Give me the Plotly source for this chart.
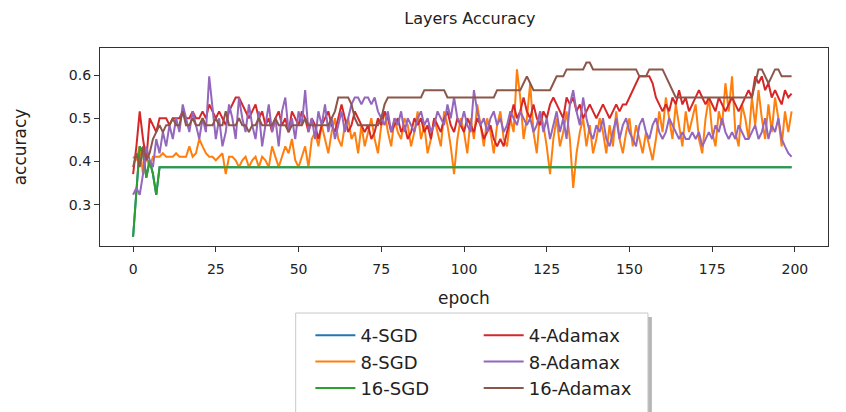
import plotly.graph_objects as go

epochs = list(range(200))

acc_16_sgd = [
    0.226, 0.339, 0.435, 0.419, 0.363, 0.403, 0.371, 0.323, 0.387, 0.387,
    0.387, 0.387, 0.387, 0.387, 0.387, 0.387, 0.387, 0.387, 0.387, 0.387,
    0.387, 0.387, 0.387, 0.387, 0.387, 0.387, 0.387, 0.387, 0.387, 0.387,
    0.387, 0.387, 0.387, 0.387, 0.387, 0.387, 0.387, 0.387, 0.387, 0.387,
    0.387, 0.387, 0.387, 0.387, 0.387, 0.387, 0.387, 0.387, 0.387, 0.387,
    0.387, 0.387, 0.387, 0.387, 0.387, 0.387, 0.387, 0.387, 0.387, 0.387,
    0.387, 0.387, 0.387, 0.387, 0.387, 0.387, 0.387, 0.387, 0.387, 0.387,
    0.387, 0.387, 0.387, 0.387, 0.387, 0.387, 0.387, 0.387, 0.387, 0.387,
    0.387, 0.387, 0.387, 0.387, 0.387, 0.387, 0.387, 0.387, 0.387, 0.387,
    0.387, 0.387, 0.387, 0.387, 0.387, 0.387, 0.387, 0.387, 0.387, 0.387,
    0.387, 0.387, 0.387, 0.387, 0.387, 0.387, 0.387, 0.387, 0.387, 0.387,
    0.387, 0.387, 0.387, 0.387, 0.387, 0.387, 0.387, 0.387, 0.387, 0.387,
    0.387, 0.387, 0.387, 0.387, 0.387, 0.387, 0.387, 0.387, 0.387, 0.387,
    0.387, 0.387, 0.387, 0.387, 0.387, 0.387, 0.387, 0.387, 0.387, 0.387,
    0.387, 0.387, 0.387, 0.387, 0.387, 0.387, 0.387, 0.387, 0.387, 0.387,
    0.387, 0.387, 0.387, 0.387, 0.387, 0.387, 0.387, 0.387, 0.387, 0.387,
    0.387, 0.387, 0.387, 0.387, 0.387, 0.387, 0.387, 0.387, 0.387, 0.387,
    0.387, 0.387, 0.387, 0.387, 0.387, 0.387, 0.387, 0.387, 0.387, 0.387,
    0.387, 0.387, 0.387, 0.387, 0.387, 0.387, 0.387, 0.387, 0.387, 0.387,
    0.387, 0.387, 0.387, 0.387, 0.387, 0.387, 0.387, 0.387, 0.387, 0.387,
]

# 4-SGD lies exactly underneath 16-SGD in the reference
acc_4_sgd = list(acc_16_sgd)

acc_8_sgd = [
    0.411, 0.403, 0.435, 0.371, 0.411, 0.387, 0.411, 0.411, 0.411, 0.419,
    0.411, 0.411, 0.411, 0.419, 0.411, 0.411, 0.411, 0.435, 0.411, 0.419,
    0.452, 0.435, 0.419, 0.411, 0.411, 0.403, 0.411, 0.419, 0.371, 0.411,
    0.411, 0.403, 0.387, 0.403, 0.411, 0.387, 0.403, 0.411, 0.387, 0.411,
    0.403, 0.387, 0.435, 0.411, 0.387, 0.411, 0.435, 0.419, 0.452, 0.403,
    0.387, 0.411, 0.435, 0.387, 0.452, 0.468, 0.435, 0.484, 0.452, 0.419,
    0.468, 0.500, 0.452, 0.435, 0.484, 0.500, 0.452, 0.468, 0.419, 0.484,
    0.435, 0.468, 0.500, 0.452, 0.419, 0.484, 0.516, 0.468, 0.435, 0.500,
    0.468, 0.452, 0.500, 0.484, 0.435, 0.468, 0.516, 0.452, 0.484, 0.419,
    0.452, 0.500, 0.468, 0.435, 0.516, 0.484, 0.435, 0.371, 0.452, 0.500,
    0.468, 0.419, 0.500, 0.452, 0.532, 0.484, 0.435, 0.500, 0.468, 0.419,
    0.484, 0.516, 0.452, 0.435, 0.500, 0.468, 0.613, 0.548, 0.452, 0.500,
    0.581, 0.468, 0.419, 0.516, 0.484, 0.435, 0.371, 0.452, 0.500, 0.435,
    0.468, 0.516, 0.452, 0.339, 0.419, 0.468, 0.500, 0.435, 0.484, 0.419,
    0.452, 0.500, 0.468, 0.419, 0.484, 0.435, 0.516, 0.452, 0.419, 0.468,
    0.500, 0.435, 0.484, 0.452, 0.419, 0.468, 0.435, 0.403, 0.452, 0.516,
    0.468, 0.548, 0.500, 0.452, 0.532, 0.484, 0.435, 0.516, 0.468, 0.500,
    0.532, 0.452, 0.419, 0.500, 0.548, 0.468, 0.435, 0.516, 0.484, 0.581,
    0.516, 0.597, 0.468, 0.435, 0.532, 0.500, 0.452, 0.548, 0.484, 0.565,
    0.500, 0.452, 0.532, 0.468, 0.548, 0.500, 0.435, 0.516, 0.468, 0.516,
]

acc_4_adamax = [
    0.371, 0.435, 0.516, 0.452, 0.403, 0.500, 0.484, 0.468, 0.500, 0.500,
    0.500, 0.484, 0.500, 0.500, 0.500, 0.516, 0.500, 0.500, 0.516, 0.500,
    0.500, 0.516, 0.500, 0.532, 0.516, 0.500, 0.516, 0.500, 0.484, 0.516,
    0.532, 0.548, 0.548, 0.532, 0.516, 0.500, 0.516, 0.532, 0.500, 0.516,
    0.484, 0.500, 0.468, 0.500, 0.516, 0.484, 0.500, 0.468, 0.516, 0.500,
    0.484, 0.516, 0.500, 0.468, 0.500, 0.484, 0.452, 0.484, 0.500, 0.516,
    0.484, 0.468, 0.500, 0.532, 0.500, 0.468, 0.484, 0.516, 0.500, 0.484,
    0.468, 0.484, 0.452, 0.468, 0.500, 0.484, 0.516, 0.500, 0.468, 0.484,
    0.500, 0.468, 0.484, 0.452, 0.468, 0.500, 0.484, 0.500, 0.468, 0.484,
    0.452, 0.500, 0.484, 0.468, 0.500, 0.516, 0.484, 0.468, 0.500, 0.484,
    0.468, 0.500, 0.484, 0.468, 0.500, 0.484, 0.452, 0.468, 0.484, 0.452,
    0.435, 0.452, 0.435, 0.468, 0.500, 0.532, 0.500, 0.516, 0.548, 0.516,
    0.500, 0.532, 0.500, 0.484, 0.516, 0.500, 0.532, 0.548, 0.532, 0.516,
    0.500, 0.548, 0.532, 0.548, 0.516, 0.532, 0.500, 0.516, 0.532, 0.516,
    0.500, 0.516, 0.532, 0.516, 0.500, 0.516, 0.532, 0.516, 0.532, 0.532,
    0.548, 0.565, 0.581, 0.597, 0.597, 0.597, 0.597, 0.581, 0.548, 0.532,
    0.516, 0.532, 0.516, 0.548, 0.532, 0.565, 0.532, 0.548, 0.516, 0.532,
    0.548, 0.565, 0.548, 0.532, 0.548, 0.532, 0.516, 0.548, 0.532, 0.516,
    0.532, 0.548, 0.532, 0.516, 0.532, 0.548, 0.565, 0.548, 0.597, 0.581,
    0.597, 0.565, 0.581, 0.548, 0.565, 0.548, 0.532, 0.565, 0.548, 0.557,
]

acc_8_adamax = [
    0.323, 0.339, 0.323, 0.371, 0.435, 0.403, 0.387, 0.452, 0.419, 0.468,
    0.435, 0.484, 0.452, 0.500, 0.468, 0.532, 0.500, 0.468, 0.516, 0.484,
    0.452, 0.500, 0.468, 0.597, 0.516, 0.452, 0.500, 0.435, 0.468, 0.532,
    0.500, 0.452, 0.548, 0.500, 0.468, 0.532, 0.484, 0.452, 0.516, 0.435,
    0.484, 0.532, 0.468, 0.500, 0.435, 0.516, 0.548, 0.468, 0.500, 0.452,
    0.516, 0.484, 0.565, 0.468, 0.500, 0.452, 0.516, 0.484, 0.532, 0.468,
    0.500, 0.452, 0.484, 0.516, 0.468, 0.500, 0.532, 0.548, 0.548, 0.532,
    0.548, 0.548, 0.532, 0.548, 0.516, 0.500, 0.484, 0.516, 0.468, 0.500,
    0.484, 0.516, 0.468, 0.500, 0.484, 0.468, 0.500, 0.516, 0.484, 0.500,
    0.468, 0.484, 0.516, 0.500, 0.484, 0.532, 0.500, 0.548, 0.500, 0.484,
    0.516, 0.484, 0.468, 0.565, 0.516, 0.484, 0.500, 0.468, 0.500, 0.516,
    0.484, 0.500, 0.468, 0.484, 0.516, 0.500, 0.484, 0.516, 0.500, 0.484,
    0.500, 0.468, 0.484, 0.516, 0.468, 0.500, 0.452, 0.484, 0.516, 0.468,
    0.500, 0.452, 0.532, 0.565, 0.516, 0.484, 0.548, 0.500, 0.468, 0.452,
    0.484, 0.468, 0.500, 0.452, 0.435, 0.468, 0.500, 0.452, 0.484, 0.500,
    0.468, 0.452, 0.435, 0.484, 0.500, 0.468, 0.452, 0.484, 0.500, 0.468,
    0.452, 0.468, 0.500, 0.484, 0.468, 0.452, 0.468, 0.452, 0.452, 0.468,
    0.452, 0.468, 0.435, 0.452, 0.468, 0.452, 0.484, 0.468, 0.500, 0.468,
    0.452, 0.468, 0.452, 0.484, 0.468, 0.452, 0.452, 0.468, 0.484, 0.452,
    0.468, 0.500, 0.452, 0.484, 0.468, 0.500, 0.452, 0.435, 0.419, 0.411,
]

acc_16_adamax = [
    0.387, 0.419, 0.387, 0.435, 0.403, 0.419, 0.452, 0.468, 0.484, 0.468,
    0.484, 0.484, 0.500, 0.484, 0.484, 0.516, 0.484, 0.484, 0.500, 0.484,
    0.484, 0.500, 0.484, 0.484, 0.484, 0.500, 0.484, 0.484, 0.516, 0.484,
    0.484, 0.484, 0.500, 0.484, 0.484, 0.468, 0.484, 0.484, 0.500, 0.484,
    0.484, 0.484, 0.484, 0.500, 0.484, 0.484, 0.484, 0.468, 0.484, 0.484,
    0.484, 0.484, 0.500, 0.484, 0.484, 0.484, 0.484, 0.484, 0.484, 0.484,
    0.500, 0.516, 0.548, 0.548, 0.548, 0.548, 0.532, 0.500, 0.484, 0.484,
    0.484, 0.484, 0.484, 0.484, 0.484, 0.500, 0.532, 0.548, 0.548, 0.548,
    0.548, 0.548, 0.548, 0.548, 0.548, 0.548, 0.548, 0.548, 0.565, 0.565,
    0.565, 0.565, 0.565, 0.565, 0.565, 0.548, 0.548, 0.548, 0.548, 0.548,
    0.548, 0.548, 0.548, 0.548, 0.548, 0.548, 0.548, 0.548, 0.548, 0.548,
    0.565, 0.565, 0.565, 0.565, 0.565, 0.565, 0.565, 0.565, 0.581, 0.597,
    0.581, 0.565, 0.565, 0.565, 0.565, 0.565, 0.565, 0.581, 0.597, 0.597,
    0.597, 0.613, 0.613, 0.613, 0.613, 0.613, 0.613, 0.629, 0.629, 0.613,
    0.613, 0.613, 0.613, 0.613, 0.613, 0.613, 0.613, 0.613, 0.613, 0.613,
    0.613, 0.613, 0.613, 0.597, 0.597, 0.597, 0.613, 0.613, 0.613, 0.613,
    0.613, 0.597, 0.581, 0.565, 0.548, 0.548, 0.548, 0.548, 0.548, 0.548,
    0.548, 0.548, 0.548, 0.548, 0.548, 0.548, 0.548, 0.548, 0.548, 0.548,
    0.548, 0.548, 0.548, 0.548, 0.548, 0.548, 0.548, 0.548, 0.581, 0.613,
    0.613, 0.597, 0.581, 0.597, 0.613, 0.613, 0.597, 0.597, 0.597, 0.597,
]

series_names = ["4-SGD", "8-SGD", "16-SGD", "4-Adamax", "8-Adamax", "16-Adamax"]
series_values = [acc_4_sgd, acc_8_sgd, acc_16_sgd, acc_4_adamax, acc_8_adamax, acc_16_adamax]
series_colors = ["#1f77b4", "#ff7f0e", "#2ca02c", "#d62728", "#9467bd", "#8c564b"]
series_legends = ["legend", "legend", "legend", "legend2", "legend2", "legend2"]

x_tick_values = [0, 25, 50, 75, 100, 125, 150, 175, 200]
y_tick_values = [0.3, 0.4, 0.5, 0.6]

FONT = "DejaVu Sans"
TXT = "#222222"

fig = go.Figure()
for name, vals, col, lg in zip(series_names, series_values, series_colors, series_legends):
    fig.add_trace(go.Scatter(
        x=epochs, y=vals, mode="lines", name=name,
        line=dict(color=col, width=2),
        legend=lg, legendgroup=name,
    ))

W, H = 846, 412
L, R, T, B = 76, 26, 40, 174
pw, ph = W - L - R, H - T - B


def px(xp):
    return (xp - L) / pw


def py(yp):
    return (H - B - yp) / ph


legend_common = dict(
    bgcolor="rgba(0,0,0,0)", borderwidth=0,
    font=dict(family=FONT, size=18, color=TXT),
    xanchor="left", yanchor="top", orientation="v",
    traceorder="grouped", tracegroupgap=0, itemwidth=40,
)

fig.update_layout(
    width=W, height=H,
    margin=dict(l=L, r=R, t=T, b=B),
    paper_bgcolor="white", plot_bgcolor="white",
    title=dict(text="Layers Accuracy", font=dict(family=FONT, size=16, color=TXT),
               x=px(454), xref="paper", xanchor="center",
               y=1, yref="container", yanchor="top", pad=dict(t=5)),
    xaxis=dict(
        range=[-10, 210], tickvals=x_tick_values,
        showgrid=False, zeroline=False,
        showline=True, linecolor="#333333", linewidth=1.2, mirror=True,
        ticks="outside", ticklen=5, tickwidth=1.2, tickcolor="#333333",
        ticklabelstandoff=5,
        tickfont=dict(family=FONT, size=14, color=TXT),
        title=dict(text="epoch", font=dict(family=FONT, size=17, color=TXT), standoff=16),
    ),
    yaxis=dict(
        range=[0.2046, 0.6625], tickvals=y_tick_values, tickformat=".1f",
        showgrid=False, zeroline=False,
        showline=True, linecolor="#333333", linewidth=1.2, mirror=True,
        ticks="outside", ticklen=5, tickwidth=1.2, tickcolor="#333333",
        tickfont=dict(family=FONT, size=14, color=TXT),
        title=dict(text="accuracy", font=dict(family=FONT, size=17, color=TXT), standoff=37),
    ),
    legend=dict(x=px(291), y=py(309), **legend_common),
    legend2=dict(x=px(463), y=py(309), **legend_common),
    shapes=[
        dict(type="rect", xref="paper", yref="paper",
             x0=px(280), x1=px(640), y0=py(413), y1=py(309),
             line=dict(width=0), fillcolor="rgba(110,110,110,0.5)", layer="above"),
        dict(type="rect", xref="paper", yref="paper",
             x0=px(276), x1=px(636), y0=py(409), y1=py(305),
             line=dict(width=1, color="#c8c8c8"), fillcolor="white", layer="above"),
    ],
    showlegend=True,
)

fig.write_html("out.html")
